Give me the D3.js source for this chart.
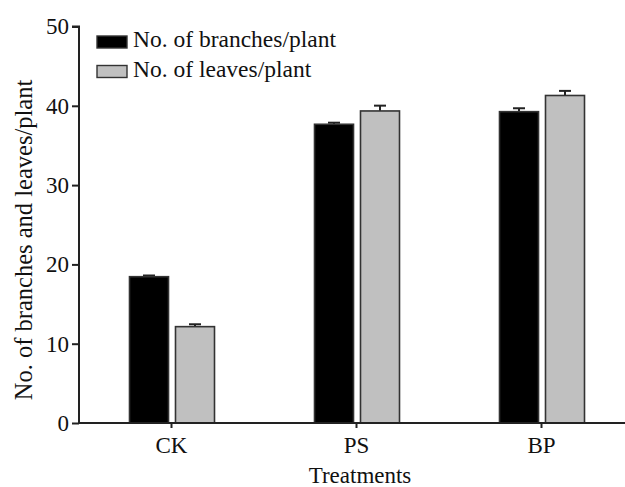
<!DOCTYPE html>
<html lang="en">
<head>
<meta charset="utf-8">
<title>Branches and leaves per plant</title>
<script src="https://d3js.org/d3.v7.min.js"></script>
<style>
  body { margin: 0; background: #fff; }
  svg text { font-family: "Liberation Serif", Tinos, "Times New Roman", Times, "DejaVu Serif", serif !important; fill: #111; }
</style>
</head>
<body>
<div id="chart"></div>
<script>
var categories = ["CK", "PS", "BP"];
var seriesNames = ["No. of branches/plant", "No. of leaves/plant"];
var branches = [18.45, 37.67, 39.26];
var branchesErr = [0.15, 0.2, 0.43];
var leaves = [12.15, 39.35, 41.3];
var leavesErr = [0.3, 0.67, 0.58];
var yTicks = [0, 10, 20, 30, 40, 50];

var W = 625, H = 487;
var axisColor = "#222";
var fills = ["#000000", "#c0c0c0"];

var svg = d3.select("#chart").append("svg")
    .attr("width", W).attr("height", H);

var x = d3.scaleBand().domain(categories).range([79, 634]).padding(0);
var xs = d3.scaleBand().domain(seriesNames).range([-42, 43]).paddingInner(0.152);
var y = d3.scaleLinear().domain([0, 50]).range([423, 26.5]);

var rows = [];
categories.forEach(function(c, i) {
    rows.push({ cat: c, s: seriesNames[0], v: branches[i], e: branchesErr[i], k: 0 });
    rows.push({ cat: c, s: seriesNames[1], v: leaves[i], e: leavesErr[i], k: 1 });
});

// error bars (drawn first so the bar top border covers the stem)
var err = svg.append("g").attr("stroke", "#222").attr("stroke-width", 2);
rows.forEach(function(d) {
    var cx = x(d.cat) + x.bandwidth() / 2 + xs(d.s) + xs.bandwidth() / 2;
    err.append("line").attr("x1", cx).attr("x2", cx)
        .attr("y1", y(d.v)).attr("y2", y(d.v + d.e));
    err.append("line").attr("x1", cx - 6).attr("x2", cx + 6)
        .attr("y1", y(d.v + d.e)).attr("y2", y(d.v + d.e));
});

svg.append("g").selectAll("rect").data(rows).enter().append("rect")
    .attr("x", function(d) { return x(d.cat) + x.bandwidth() / 2 + xs(d.s); })
    .attr("y", function(d) { return y(d.v); })
    .attr("width", xs.bandwidth())
    .attr("height", function(d) { return y(0) - y(d.v); })
    .attr("fill", function(d) { return fills[d.k]; })
    .attr("stroke", "#333")
    .attr("stroke-width", 1.6);

// axes
var yAxis = svg.append("g")
    .attr("transform", "translate(79,0)")
    .call(d3.axisLeft(y).tickValues(yTicks).tickSize(7).tickPadding(3).tickFormat(d3.format("d")));
var xAxis = svg.append("g")
    .attr("transform", "translate(0,423)")
    .call(d3.axisBottom(x).tickSize(5).tickPadding(9));

[yAxis, xAxis].forEach(function(a) {
    a.attr("font-family", null);
    a.select(".domain").attr("stroke", axisColor).attr("stroke-width", 2);
    a.selectAll(".tick line").attr("stroke", axisColor).attr("stroke-width", 2);
    a.selectAll("text").style("font-size", "23px").attr("fill", "#111");
});
yAxis.select(".domain").attr("d", "M-7,26.5H0V423");
xAxis.select(".domain").attr("d", "M79,0H634");

// axis titles
svg.append("text")
    .attr("transform", "translate(32,240) rotate(-90)")
    .attr("text-anchor", "middle")
    .style("font-size", "24.5px")
    .text("No. of branches and leaves/plant");

svg.append("text")
    .attr("x", 360).attr("y", 483)
    .attr("text-anchor", "middle")
    .style("font-size", "23px")
    .text("Treatments");

// legend
var legend = svg.append("g").attr("transform", "translate(97,36)");
seriesNames.forEach(function(s, i) {
    var g = legend.append("g").attr("transform", "translate(0," + (i * 29.5) + ")");
    g.append("rect").attr("width", 30).attr("height", 12)
        .attr("fill", fills[i]).attr("stroke", "#333").attr("stroke-width", 1.4);
    g.append("text").attr("x", 36).attr("y", 11)
        .style("font-size", "23.5px")
        .text(s);
});
</script>
</body>
</html>
